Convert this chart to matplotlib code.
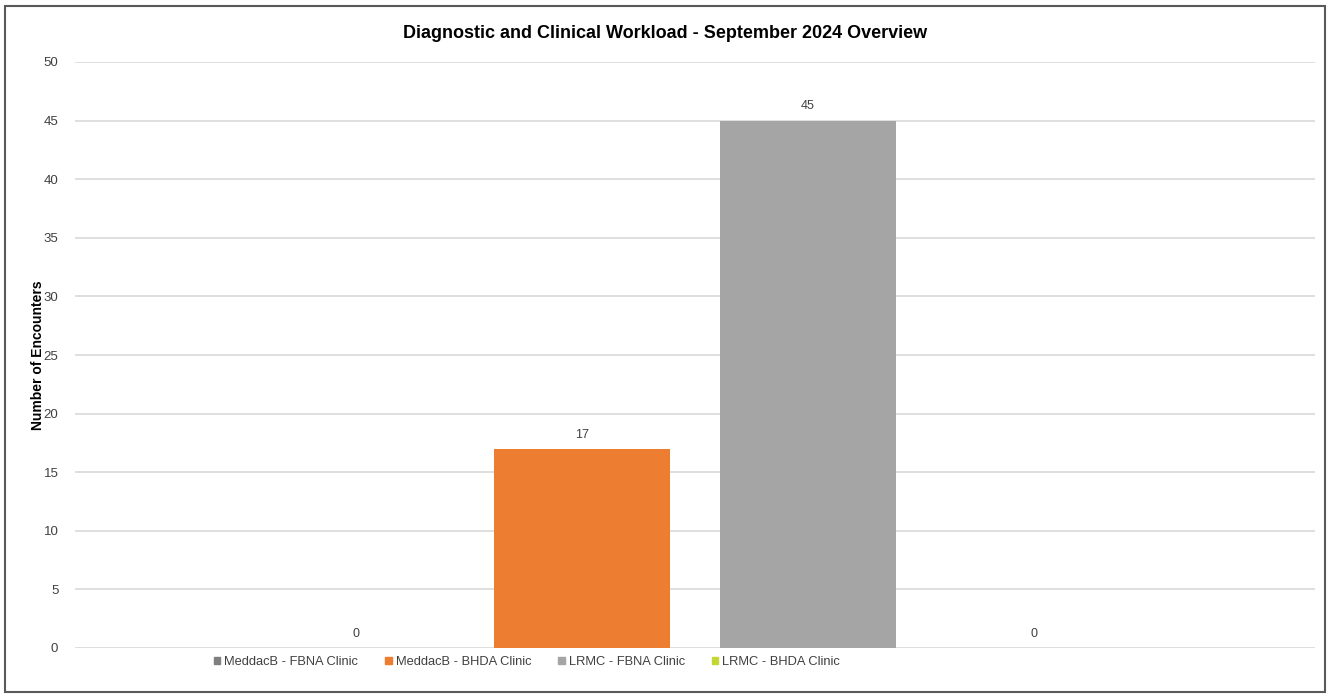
import matplotlib
matplotlib.use("Agg")
import matplotlib.pyplot as plt
from matplotlib.patches import Rectangle

plt.rcParams['font.family'] = ['Liberation Sans', 'DejaVu Sans']

# === Data ===
clinics = ['MeddacB - FBNA Clinic', 'MeddacB - BHDA Clinic', 'LRMC - FBNA Clinic', 'LRMC - BHDA Clinic']
encounters = [0, 17, 45, 0]
colors = ['#7f7f7f', '#ed7d31', '#a5a5a5', '#c3d633']
yticks = [0, 5, 10, 15, 20, 25, 30, 35, 40, 45, 50]

# === Figure ===
fig = plt.figure(figsize=(13.3, 6.98), dpi=100)
ax = fig.add_axes([75 / 1330, 50 / 698, 1240 / 1330, 586 / 698])

xs = range(len(clinics))
ax.bar(xs, encounters, width=0.78, color=colors, label=clinics, zorder=2)
for x, v in zip(xs, encounters):
    ax.text(x, v + 0.7, str(v), ha='center', va='bottom', fontsize=9, color='#404040')

ax.set_xlim(-1.245, 4.245)
ax.set_ylim(0, 50)
ax.set_yticks(yticks)
ax.set_xticks([])
ax.grid(axis='y', color='#d9d9d9', linewidth=1.2, zorder=0)
for s in ax.spines.values():
    s.set_visible(False)
ax.tick_params(axis='y', length=0, labelsize=9.5, labelcolor='#404040', pad=12)
ax.set_ylabel('Number of Encounters', fontsize=10, fontweight='bold')
ax.yaxis.set_label_coords(-0.024, 0.5)

fig.suptitle('Diagnostic and Clinical Workload - September 2024 Overview',
             y=1 - 33 / 698, va='center', fontsize=13, fontweight='bold')

handles = [Rectangle((0, 0), 1, 1, color=c) for c in colors]
fig.legend(handles, clinics, loc='center', bbox_to_anchor=(527 / 1330, 1 - 662 / 698),
           ncol=4, frameon=False, fontsize=9.3, handlelength=0.5, handleheight=0.5,
           handletextpad=0.3, columnspacing=2.1, labelcolor='#404040')

# outer border
fig.patches.append(Rectangle((5 / 1330, 6 / 698), 1320 / 1330, 686 / 698, transform=fig.transFigure,
                             fill=False, edgecolor='#595959', linewidth=1.5))

fig.savefig('out.png', dpi=100)
